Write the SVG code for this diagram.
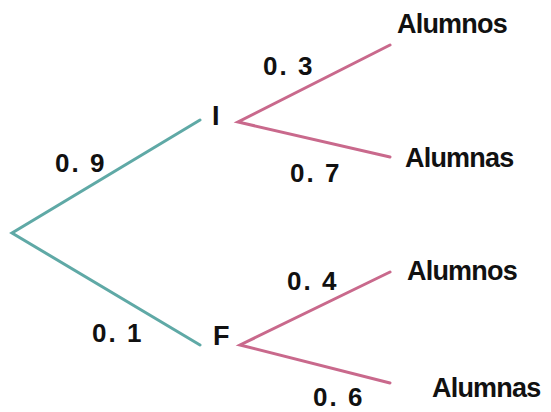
<svg xmlns="http://www.w3.org/2000/svg" width="551" height="412" viewBox="0 0 551 412">
<style>
.t{font-family:"Liberation Sans",Arial,sans-serif;font-weight:bold;fill:#111;}
.lbl{font-size:27px;letter-spacing:-0.8px;}
.p{font-size:26px;letter-spacing:2px;}
.teal{stroke:#5fa9a6;stroke-width:3;fill:none;stroke-linecap:round;}
.pink{stroke:#c9698c;stroke-width:3;fill:none;stroke-linecap:round;}
</style>
<rect width="551" height="412" fill="#fff"/>
<g id="connectors">
<polyline class="teal" points="200,120 12,233 200,345"/>
<polyline class="pink" points="390,45 238,122 390,157"/>
<polyline class="pink" points="390,272 240,345 390,383"/>
</g>
<g id="labels" class="t p" xml:space="preserve">
<text x="55" y="172">0. 9</text>
<text x="92" y="342">0. 1</text>
<text x="263" y="75">0. 3</text>
<text x="290" y="182">0. 7</text>
<text x="287" y="290">0. 4</text>
<text x="313" y="406">0. 6</text>
</g>
<g id="node-I"><text class="t lbl" x="212" y="125">I</text></g>
<g id="node-F"><text class="t lbl" x="213" y="345">F</text></g>
<g id="node-alumnos1"><text class="t lbl" x="397" y="33">Alumnos</text></g>
<g id="node-alumnas1"><text class="t lbl" x="405" y="167">Alumnas</text></g>
<g id="node-alumnos2"><text class="t lbl" x="407" y="280">Alumnos</text></g>
<g id="node-alumnas2"><text class="t lbl" x="432" y="397">Alumnas</text></g>
</svg>
